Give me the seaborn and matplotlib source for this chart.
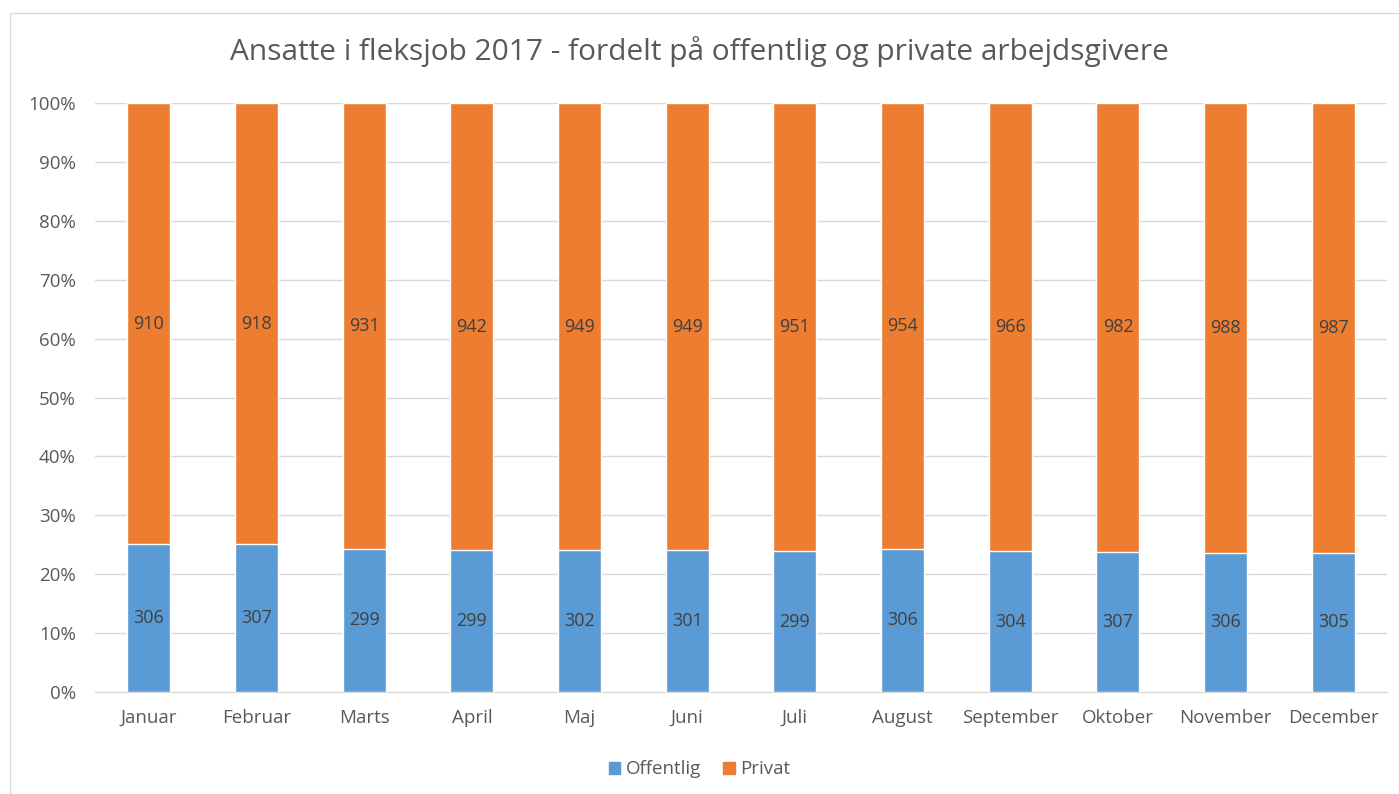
import pandas as pd
import numpy as np
import matplotlib.pyplot as plt
import matplotlib.patches as mpatches
import seaborn as sns

# Data
months = ['Januar', 'Februar', 'Marts', 'April', 'Maj', 'Juni', 'Juli',
          'August', 'September', 'Oktober', 'November', 'December']
offentlig = [306, 307, 299, 299, 302, 301, 299, 306, 304, 307, 306, 305]
privat = [910, 918, 931, 942, 949, 949, 951, 954, 966, 982, 988, 987]

df = pd.DataFrame({'month': months, 'Offentlig': offentlig, 'Privat': privat})
df['total'] = df['Offentlig'] + df['Privat']
df['off_share'] = df['Offentlig'] / df['total']
df['all_share'] = 1.0

sns.set_style('white')
plt.rcParams['font.family'] = ['Open Sans', 'DejaVu Sans']

blue = '#5B9BD5'
orange = '#ED7D31'
grey = '#595959'

fig = plt.figure(figsize=(13.99, 7.94), dpi=100)
ax = fig.add_axes([0.068, 0.1285, 0.9235, 0.7415])

# stacked 100% bars: full bar orange, offentlig share drawn over it in blue
sns.barplot(data=df, x='month', y='all_share', color=orange, width=0.4,
            saturation=1, ax=ax, zorder=2)
sns.barplot(data=df, x='month', y='off_share', color=blue, width=0.4,
            saturation=1, ax=ax, zorder=3)

# value labels in middle of each segment
for i, row in df.iterrows():
    ax.text(i, row['off_share'] / 2, str(row['Offentlig']), ha='center',
            va='center', fontsize=13, color='#404040', zorder=4)
    ax.text(i, row['off_share'] + (1 - row['off_share']) / 2, str(row['Privat']),
            ha='center', va='center', fontsize=13, color='#404040', zorder=4)

ax.set_ylim(0, 1)
ax.set_xlim(-0.5, 11.5)
ax.set_yticks(np.arange(0, 1.01, 0.1))
ax.set_yticklabels([f'{int(round(v * 100))}%' for v in np.arange(0, 1.01, 0.1)])
ax.yaxis.grid(True, color='#D9D9D9', linewidth=1, zorder=0)
ax.set_axisbelow(True)
ax.tick_params(axis='both', labelsize=13.5, colors=grey, length=0)
ax.tick_params(axis='x', pad=12)
ax.tick_params(axis='y', pad=14)
ax.set_xlabel('')
ax.set_ylabel('')
sns.despine(ax=ax, left=True, right=True, top=True, bottom=False)
ax.spines['bottom'].set_color('#D9D9D9')

fig.suptitle('Ansatte i fleksjob 2017 - fordelt på offentlig og private arbejdsgivere',
             fontsize=21.5, color=grey, y=0.955)

handles = [mpatches.Patch(color=blue, label='Offentlig'),
           mpatches.Patch(color=orange, label='Privat')]
fig.legend(handles=handles, loc='center', bbox_to_anchor=(0.5, 0.031), ncol=2,
           frameon=False, fontsize=13.5, handlelength=0.6, handleheight=0.6,
           handletextpad=0.3, columnspacing=1.2, labelcolor=grey)

# outer chart border
fig.patches.append(mpatches.Rectangle((10 / 1399, -0.1), 1.1, 1 - 13 / 794 + 0.1,
                                      transform=fig.transFigure, fill=False,
                                      edgecolor='#D9D9D9', linewidth=1))

plt.savefig('out.png', dpi=100)
